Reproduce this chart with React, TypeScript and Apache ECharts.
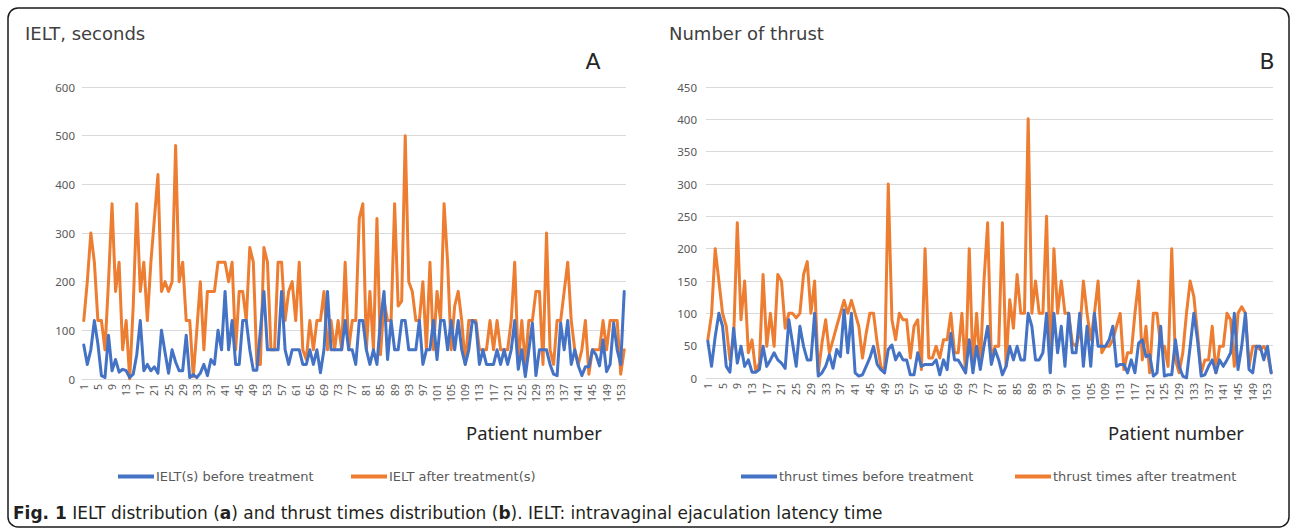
import React, { useEffect, useRef } from "react";
import * as echarts from "echarts";

const patients = Array.from({ length: 154 }, (_, i) => String(i + 1));

const ieltBefore = [
  70, 30, 60, 120, 72, 7, 3, 90, 17, 40,
  14, 20, 17, 3, 10, 50, 120, 17, 30, 17,
  25, 12, 100, 55, 12, 60, 35, 17, 17, 90,
  3, 9, 3, 12, 30, 7, 40, 30, 100, 60,
  180, 60, 120, 30, 30, 120, 120, 60, 18, 18,
  100, 180, 60, 60, 60, 60, 180, 60, 30, 60,
  60, 60, 30, 30, 60, 30, 60, 13, 60, 180,
  60, 60, 60, 60, 120, 60, 60, 30, 120, 120,
  60, 30, 60, 30, 120, 180, 40, 120, 60, 60,
  120, 120, 60, 60, 60, 120, 30, 60, 60, 120,
  40, 120, 120, 60, 120, 60, 120, 60, 30, 60,
  120, 115, 30, 60, 30, 30, 30, 60, 30, 60,
  30, 60, 120, 20, 60, 5, 60, 115, 7, 60,
  60, 60, 30, 10, 7, 115, 60, 120, 30, 60,
  27, 7, 25, 25, 60, 50, 27, 80, 15, 30,
  115, 60, 30, 180,
];

const ieltAfter = [
  120, 200, 300, 240, 120, 120, 60, 200, 360, 180,
  240, 60, 120, 0, 150, 360, 180, 240, 120, 240,
  330, 420, 180, 200, 180, 200, 480, 200, 240, 120,
  120, 5, 100, 200, 60, 180, 180, 180, 240, 240,
  240, 200, 240, 60, 180, 180, 120, 270, 240, 30,
  30, 270, 240, 60, 60, 240, 240, 120, 180, 200,
  120, 240, 60, 40, 120, 60, 120, 120, 180, 60,
  120, 60, 120, 60, 240, 60, 120, 120, 330, 360,
  60, 180, 60, 330, 50, 160, 120, 120, 360, 150,
  160, 500, 200, 180, 120, 120, 200, 60, 240, 60,
  180, 120, 360, 240, 60, 150, 180, 120, 30, 120,
  120, 120, 60, 60, 60, 120, 60, 120, 60, 60,
  60, 120, 240, 30, 120, 30, 120, 120, 180, 180,
  30, 300, 60, 30, 120, 120, 180, 240, 120, 60,
  30, 60, 120, 10, 60, 60, 60, 120, 60, 120,
  120, 120, 10, 60,
];

const thrustBefore = [
  57, 18, 64, 100, 80, 18, 9, 77, 23, 49,
  18, 28, 9, 9, 13, 49, 18, 28, 39, 28,
  23, 15, 90, 54, 18, 80, 49, 28, 28, 100,
  3, 8, 18, 36, 15, 44, 33, 105, 39, 100,
  8, 3, 5, 18, 31, 49, 21, 13, 8, 44,
  51, 28, 39, 28, 28, 5, 5, 39, 18, 21,
  21, 21, 28, 5, 28, 13, 69, 28, 28, 18,
  8, 59, 8, 49, 13, 49, 80, 21, 44, 28,
  5, 18, 49, 28, 49, 28, 28, 100, 80, 28,
  28, 39, 100, 8, 100, 39, 80, 18, 100, 39,
  39, 100, 18, 80, 18, 100, 49, 49, 49, 59,
  80, 18, 21, 21, 8, 28, 8, 54, 59, 33,
  36, 3, 8, 80, 3, 5, 5, 59, 18, 3,
  0, 49, 100, 59, 3, 5, 18, 28, 8, 28,
  18, 28, 39, 100, 13, 49, 100, 13, 8, 49,
  49, 28, 49, 8,
];

const thrustAfter = [
  59, 98, 200, 150, 100, 80, 28, 60, 240, 90,
  150, 39, 59, 10, 23, 160, 49, 100, 49, 160,
  150, 77, 100, 100, 93, 100, 160, 180, 100, 150,
  8, 54, 90, 39, 59, 80, 100, 120, 100, 120,
  100, 80, 31, 69, 100, 100, 54, 18, 8, 300,
  90, 59, 100, 90, 90, 31, 80, 90, 13, 200,
  31, 31, 49, 31, 59, 59, 100, 39, 39, 100,
  8, 200, 18, 100, 18, 150, 240, 28, 49, 49,
  240, 18, 121, 77, 160, 100, 100, 401, 100, 150,
  100, 100, 250, 10, 200, 100, 150, 100, 100, 54,
  49, 69, 150, 100, 59, 100, 150, 39, 49, 49,
  59, 80, 100, 13, 39, 39, 100, 150, 28, 80,
  8, 100, 100, 49, 49, 18, 200, 28, 8, 39,
  100, 150, 126, 69, 8, 28, 28, 80, 8, 49,
  49, 100, 90, 18, 100, 110, 100, 18, 49, 49,
  44, 49, 39, 8,
];

const BLUE = "#4472C4";
const ORANGE = "#ED7D31";
const FONT = "'Noto Sans', 'DejaVu Sans', sans-serif";
const WIDE = "'DejaVu Sans', 'Noto Sans', sans-serif";

export default function App() {
  const ref = useRef<HTMLDivElement>(null);

  useEffect(() => {
    const chart = echarts.init(ref.current!, null, { renderer: "svg" });

    const xAxis = (gridIndex: number) => ({
      type: "category",
      gridIndex,
      data: patients,
      boundaryGap: true,
      axisLine: { show: true, lineStyle: { color: "#d9d9d9", width: 1 } },
      axisTick: { show: false },
      axisLabel: {
        interval: 3,
        rotate: 90,
        fontSize: 10.5,
        color: "#595959",
        margin: 5,
        fontFamily: FONT,
      },
      splitLine: { show: false },
    });

    const yAxis = (gridIndex: number, max: number, interval: number, margin: number) => ({
      type: "value",
      gridIndex,
      min: 0,
      max,
      interval,
      axisLine: { show: false },
      axisTick: { show: false },
      axisLabel: { fontSize: 11.5, color: "#595959", margin, fontFamily: FONT },
      splitLine: { show: true, lineStyle: { color: "#d9d9d9", width: 1 } },
    });

    const lineSeries = (name: string, data: number[], color: string, idx: number, z: number) => ({
      name,
      type: "line",
      xAxisIndex: idx,
      yAxisIndex: idx,
      data,
      symbol: "none",
      z,
      color,
      lineStyle: { color, width: 3, join: "round", cap: "round" },
    });

    const txt = (
      text: string,
      x: number,
      y: number,
      size: number,
      fill = "#404040",
      align = "left",
      family = WIDE
    ) => ({
      type: "text",
      x,
      y,
      style: {
        text,
        fontSize: size,
        fontFamily: family,
        fill,
        textAlign: align,
        textVerticalAlign: "middle",
      },
    });

    const legendCommon = {
      orient: "horizontal",
      icon: "rect",
      itemWidth: 36,
      itemHeight: 4,
      padding: 0,
      itemGap: 0,
      textStyle: { fontSize: 13, color: "#595959", fontFamily: WIDE, padding: [0, 0, 0, -3] },
    };

    chart.setOption({
      animation: false,
      backgroundColor: "#ffffff",
      grid: [
        { left: 82, top: 87, width: 544, height: 292, containLabel: false },
        { left: 706, top: 87, width: 567, height: 291, containLabel: false },
      ],
      xAxis: [xAxis(0), xAxis(1)],
      yAxis: [yAxis(0, 600, 100, 7), yAxis(1, 450, 50, 9)],
      legend: [
        { ...legendCommon, left: 118, top: 470, data: ["IELT(s) before treatment"] },
        { ...legendCommon, left: 351, top: 470, data: ["IELT after treatment(s)"] },
        { ...legendCommon, left: 741, top: 470, data: ["thrust times before treatment"] },
        { ...legendCommon, left: 1015, top: 470, data: ["thrust times after treatment"] },
      ],
      series: [
        lineSeries("IELT(s) before treatment", ieltBefore, BLUE, 0, 3),
        lineSeries("IELT after treatment(s)", ieltAfter, ORANGE, 0, 2),
        lineSeries("thrust times before treatment", thrustBefore, BLUE, 1, 3),
        lineSeries("thrust times after treatment", thrustAfter, ORANGE, 1, 2),
      ],
      graphic: [
        {
          type: "rect",
          z: -1,
          shape: { x: 8, y: 8, width: 1281, height: 519, r: 10 },
          style: { fill: "none", stroke: "#1a1a1a", lineWidth: 1.5 },
        },
        txt("IELT, seconds", 25, 33, 18),
        txt("A", 593, 61, 22, "#262626", "center"),
        txt("Number of thrust", 669, 33, 18),
        txt("B", 1267, 61, 22, "#262626", "center"),
        txt("Patient number", 602, 432, 18.5, "#262626", "right", FONT),
        txt("Patient number", 1244, 432, 18.5, "#262626", "right", FONT),
        {
          type: "text",
          x: 13,
          y: 513,
          style: {
            text:
              "{b|Fig. 1} IELT distribution ({b|a}) and thrust times distribution ({b|b}). IELT: intravaginal ejaculation latency time",
            fontSize: 17,
            fontFamily: WIDE,
            fill: "#231f20",
            textVerticalAlign: "middle",
            rich: {
              b: { fontSize: 17, fontFamily: WIDE, fontWeight: "bold", fill: "#231f20" },
            },
          },
        },
      ],
    });

    return () => chart.dispose();
  }, []);

  return (
    <div
      ref={ref}
      style={{ position: "fixed", left: 0, top: 0, width: 1292, height: 529, background: "#fff" }}
    />
  );
}
